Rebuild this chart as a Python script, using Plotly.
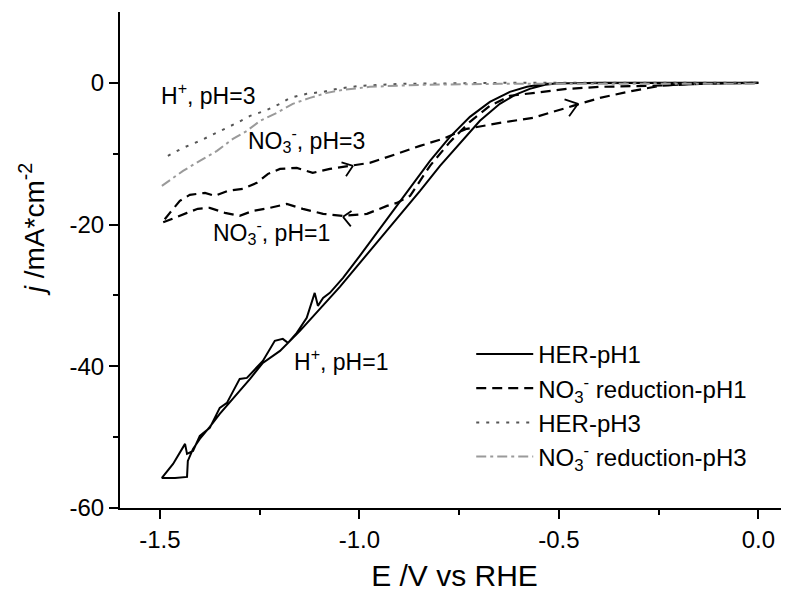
import plotly.graph_objects as go

# ---------------- data (E in V vs RHE, j in mA/cm2) ----------------
her_ph1_E = [0.0, -0.272, -0.50, -0.535, -0.573, -0.610, -0.648, -0.698, -0.748, -0.798,
             -0.848, -0.898, -0.949, -0.999, -1.049, -1.099, -1.149, -1.199, -1.242, -1.274,
             -1.300, -1.325, -1.350, -1.375, -1.400, -1.417, -1.430, -1.432, -1.462, -1.495,
             -1.485, -1.467, -1.437, -1.432, -1.417, -1.400, -1.375, -1.350, -1.332, -1.300,
             -1.282, -1.262, -1.242, -1.212, -1.192, -1.179, -1.157, -1.132, -1.112, -1.104,
             -1.091, -1.074, -1.041, -0.999, -0.949, -0.873, -0.823, -0.773, -0.723, -0.673,
             -0.623, -0.580, -0.535, -0.397, 0.0]
her_ph1_j = [0.0, 0.0, -0.07, -0.28, -0.85, -1.69, -2.96, -5.36, -8.47, -11.71,
             -15.24, -18.63, -22.02, -25.41, -28.79, -31.90, -35.00, -37.83, -39.52, -41.78,
             -43.47, -45.17, -46.72, -48.55, -50.25, -51.66, -53.35, -55.61, -55.75, -55.75,
             -55.05, -53.78, -50.95, -52.36, -51.94, -49.82, -48.69, -45.87, -45.17, -41.78,
             -41.64, -40.37, -39.24, -36.41, -36.13, -36.70, -35.29, -33.17, -29.64, -31.47,
             -30.35, -29.64, -27.52, -24.42, -20.61, -14.82, -11.01, -7.62, -4.80, -2.68,
             -1.27, -0.56, -0.14, 0.0, 0.0]

no3_ph1_E = [0.0, -0.147, -0.272, -0.397, -0.480, -0.565, -0.623, -0.673, -0.723, -0.773,
             -0.823, -0.873, -0.906, -0.931, -0.981, -1.041, -1.091, -1.142, -1.182, -1.224,
             -1.267, -1.300, -1.337, -1.375, -1.405, -1.432, -1.462, -1.495,
             -1.475, -1.450, -1.425, -1.387, -1.362, -1.330, -1.292, -1.257, -1.229, -1.199,
             -1.157, -1.117, -1.074, -1.024, -0.974, -0.906, -0.848, -0.791, -0.731, -0.648,
             -0.565, -0.465, -0.397, -0.315, -0.247, -0.147, 0.0]
no3_ph1_j = [0.0, -0.14, -0.42, -0.56, -0.85, -1.41, -1.83, -3.25, -5.50, -8.33,
             -11.71, -15.95, -16.94, -17.36, -18.49, -18.77, -18.49, -17.78, -17.08, -17.64,
             -18.07, -18.77, -18.35, -17.64, -17.78, -18.35, -19.05, -19.76,
             -18.35, -16.65, -15.81, -15.53, -15.95, -15.24, -14.96, -14.11, -12.84, -12.14,
             -12.00, -12.70, -12.14, -11.71, -11.29, -10.02, -8.89, -7.90, -6.49, -5.65,
             -4.94, -3.25, -2.12, -1.13, -0.42, -0.14, 0.0]

her_ph3_E = [-1.480, -1.442, -1.400, -1.357, -1.307, -1.274, -1.237, -1.199, -1.174, -1.132,
             -1.091, -1.056, -0.999, -0.898, -0.648, 0.0]
her_ph3_j = [-10.30, -9.17, -8.19, -7.06, -5.65, -4.66, -3.95, -2.96, -2.12, -1.55,
             -1.27, -0.85, -0.42, -0.14, 0.0, 0.0]

no3_ph3_E = [-1.495, -1.442, -1.400, -1.357, -1.317, -1.282, -1.249, -1.207, -1.167, -1.124,
             -1.081, -1.041, -0.974, -0.848, -0.648, 0.0]
no3_ph3_j = [-14.54, -12.42, -11.01, -9.60, -7.90, -6.77, -5.36, -4.23, -2.96, -2.12,
             -1.41, -0.99, -0.56, -0.28, -0.14, -0.14]

x_ticks = [-1.5, -1.0, -0.5, 0.0]
x_ticklabels = ["-1.5", "-1.0", "-0.5", "0.0"]
y_ticks = [0, -20, -40, -60]
y_ticklabels = ["0", "-20", "-40", "-60"]

names = ["HER-pH1", "NO<sub>3</sub><sup>-</sup> reduction-pH1", "HER-pH3",
         "NO<sub>3</sub><sup>-</sup> reduction-pH3"]

# scan-direction chevrons: tip position (data) and the two arm offsets (pixels)
chev_E = [-1.016, -1.041, -0.452]
chev_j = [-11.71, -18.91, -2.96]
chev_arm1 = [(-13, -4), (10, -7), (-15, -5)]
chev_arm2 = [(-8, 12), (9, 11), (-10, 14)]

# curve labels
label_text = ["H<sup>+</sup>, pH=3", "NO<sub>3</sub><sup>-</sup>, pH=3",
              "NO<sub>3</sub><sup>-</sup>, pH=1", "H<sup>+</sup>, pH=1"]
label_E = [-1.503, -1.285, -1.373, -1.170]
label_j = [-1.6, -8.0, -21.1, -39.1]

FONT = "Arial, Liberation Sans, sans-serif"

fig = go.Figure()
fig.add_trace(go.Scatter(x=her_ph1_E, y=her_ph1_j, mode="lines", name=names[0],
                         legendgroup="a",
                         line=dict(color="black", width=2)))
fig.add_trace(go.Scatter(x=no3_ph1_E, y=no3_ph1_j, mode="lines", name=names[1],
                         legendgroup="b",
                         line=dict(color="black", width=2.2, dash="10px,6px")))
fig.add_trace(go.Scatter(x=her_ph3_E, y=her_ph3_j, mode="lines", name=names[2],
                         legendgroup="c",
                         line=dict(color="#555555", width=2, dash="3px,7px")))
fig.add_trace(go.Scatter(x=no3_ph3_E, y=no3_ph3_j, mode="lines", name=names[3],
                         legendgroup="d",
                         line=dict(color="#9a9a9a", width=2, dash="10px,4px,3px,4px")))

for e, j, a1, a2 in zip(chev_E, chev_j, chev_arm1, chev_arm2):
    for (dx, dy) in (a1, a2):
        fig.add_annotation(x=e, y=j, xref="x", yref="y", ax=dx, ay=dy, text="",
                           showarrow=True, arrowhead=0, arrowwidth=1.8,
                           arrowcolor="black", standoff=0, startstandoff=0)

for t, e, j in zip(label_text, label_E, label_j):
    fig.add_annotation(x=e, y=j, xref="x", yref="y", text=t, showarrow=False,
                       xanchor="left", yanchor="middle",
                       font=dict(family=FONT, size=23, color="black"))

# y-axis title (placed slightly above the axis centre, as in the original)
fig.add_annotation(x=0, y=0.56, xref="paper", yref="paper", xshift=-88,
                   text="<i>j</i> /mA*cm<sup>-2</sup>", textangle=-90, showarrow=False,
                   xanchor="center", yanchor="middle",
                   font=dict(family=FONT, size=28, color="black"))

fig.update_layout(
    width=781, height=584,
    margin=dict(l=112, r=0, t=4, b=84),
    paper_bgcolor="white", plot_bgcolor="white",
    font=dict(family=FONT, size=22, color="black"),
    showlegend=True,
    legend=dict(x=0.525, y=0.355, xanchor="left", yanchor="top",
                bgcolor="rgba(0,0,0,0)", font=dict(family=FONT, size=24),
                tracegroupgap=4, traceorder="normal", itemwidth=57),
)
fig.update_xaxes(range=[-1.6, 0.0767], tickvals=x_ticks, ticktext=x_ticklabels,
                 showgrid=False, zeroline=False, showline=True, linecolor="black",
                 linewidth=2, ticks="outside", ticklen=9, tickwidth=2, tickcolor="black",
                 minor=dict(tickvals=[-1.25, -0.75, -0.25], ticks="outside", ticklen=5,
                            tickwidth=2, tickcolor="black"),
                 tickfont=dict(size=24),
                 title=dict(text="E /V vs RHE", font=dict(size=30), standoff=14))
fig.update_yaxes(range=[-60, 10], tickvals=y_ticks, ticktext=y_ticklabels,
                 showgrid=False, zeroline=False, showline=True, linecolor="black",
                 linewidth=2, ticks="outside", ticklen=9, tickwidth=2, tickcolor="black",
                 minor=dict(tickvals=[-10, -30, -50], ticks="outside", ticklen=5,
                            tickwidth=2, tickcolor="black"),
                 tickfont=dict(size=24))

fig.write_html("out.html")
